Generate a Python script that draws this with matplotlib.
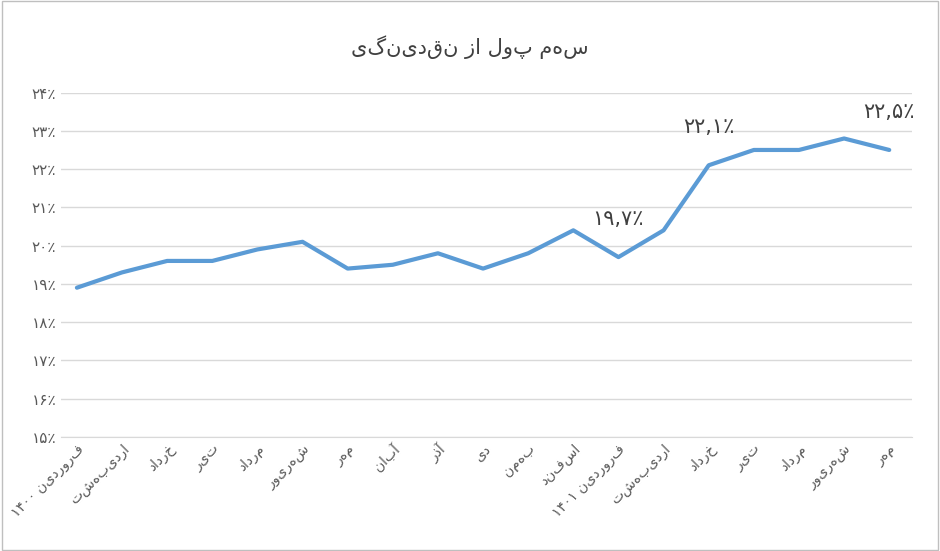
import matplotlib
matplotlib.use("Agg")
import matplotlib.pyplot as plt
import re

months = ["فروردین ۱۴۰۰", "اردیبهشت", "خرداد", "تیر", "مرداد", "شهریور", "مهر", "آبان", "آذر", "دی",
          "بهمن", "اسفند", "فروردین ۱۴۰۱", "اردیبهشت", "خرداد", "تیر", "مرداد", "شهریور", "مهر"]
values = [18.9, 19.3, 19.6, 19.6, 19.9, 20.1, 19.4, 19.5, 19.8, 19.4, 19.8, 20.4, 19.7, 20.4, 22.1, 22.5, 22.5, 22.8, 22.5]
yticks = [15, 16, 17, 18, 19, 20, 21, 22, 23, 24]
ytick_labels = ["۱۵٪", "۱۶٪", "۱۷٪", "۱۸٪", "۱۹٪", "۲۰٪", "۲۱٪", "۲۲٪", "۲۳٪", "۲۴٪"]
annot_idx = [12, 14, 18]
annot_text = ["۱۹,۷٪", "۲۲,۱٪", "۲۲,۵٪"]
title = "سهم پول از نقدینگی"

def rtl(s):
    toks = s.split(" ")
    out = []
    for t in toks:
        if re.search(r"[\u0621-\u064A\u067E\u0686\u0698\u06A9\u06AF\u06CC]", t):
            out.append(t[::-1])
        else:
            out.append(t)
    return " ".join(out[::-1])

fig = plt.figure(figsize=(9.4, 5.51), dpi=100)
fig.patches.append(plt.Rectangle((0.002, 0.002), 0.996, 0.996, transform=fig.transFigure,
                                 fill=False, edgecolor="#bfbfbf", lw=1))
ax = fig.add_axes([0.065, 0.207, 0.905, 0.625])
x = list(range(len(values)))
ax.plot(x, values, color="#5b9bd5", lw=3, solid_capstyle="round")
ax.set_ylim(15, 24)
ax.set_xlim(-0.35, len(values) - 0.5)
ax.set_yticks(yticks)
ax.set_yticklabels(ytick_labels, fontsize=11, color="#595959")
ax.set_xticks(x)
ax.set_xticklabels([rtl(m) for m in months], rotation=45, ha="right", va="top",
                   rotation_mode="anchor", fontsize=10, color="#595959")
ax.grid(axis="y", color="#d9d9d9", lw=1)
ax.set_axisbelow(True)
for s in ["top", "right", "left"]:
    ax.spines[s].set_visible(False)
ax.spines["bottom"].set_color("#d9d9d9")
ax.tick_params(length=0)
for i, t in zip(annot_idx, annot_text):
    ax.annotate(t, (x[i], values[i]), xytext=(0, 20), textcoords="offset points",
                ha="center", va="bottom", fontsize=15, color="#404040")
fig.text(0.5, 0.915, rtl(title), ha="center", va="center", fontsize=15, color="#404040")
fig.savefig("out.png", dpi=100)
